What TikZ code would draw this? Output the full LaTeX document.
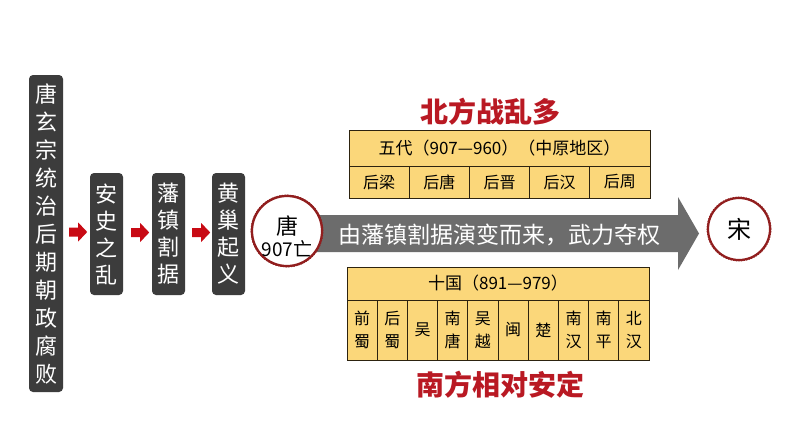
\documentclass[tikz,border=0pt]{standalone}
\usepackage{fontspec}
\setmainfont{Noto Sans CJK SC}
\usetikzlibrary{calc}
\definecolor{boxgrey}{RGB}{60,60,60}
\definecolor{arrred}{RGB}{200,10,20}
\definecolor{bigarr}{RGB}{108,108,108}
\definecolor{titlered}{RGB}{185,25,35}
\definecolor{tabfill}{RGB}{251,215,122}
\definecolor{tabline}{RGB}{45,35,15}
\definecolor{ringred}{RGB}{145,30,30}
\tikzset{
 darkbox/.style={fill=boxgrey, rounded corners=4pt, text=white, align=center, inner sep=0pt, font=\fontsize{22}{27}\selectfont},
 cell/.style={draw=tabline, line width=0.8pt, fill=tabfill, inner sep=0pt, align=center, font=\fontsize{16}{23}\selectfont},
 ring/.style={circle, draw=ringred, line width=2.2pt, fill=white, inner sep=0pt},
 scallop/.style={draw=ringred, line width=1.6pt, dash pattern=on 1.3pt off 1.3pt},
 blockarrow/.style={fill=arrred},
 titletext/.style={text=titlered, font=\fontsize{28}{30}\selectfont\bfseries}
}
\newcommand\redarrow[2]{\fill[blockarrow] ($(#1.east)+(#2,-1.5)$) ++(0,-4.5) -- ++(9,0) -- ++(0,-5) -- ++(9,9.5) -- ++(-9,9.5) -- ++(0,-5) -- ++(-9,0) -- cycle;}
\begin{document}
\begin{tikzpicture}[x=1pt,y=-1pt]
\path[use as bounding box, fill=white] (0,0) rectangle (794,447);

% left chain
\node[darkbox, minimum width=34pt, minimum height=317pt, font=\fontsize{22}{28}\selectfont] (decay) at (46,233.5) {唐\\玄\\宗\\统\\治\\后\\期\\朝\\政\\腐\\败};
\node[darkbox, minimum width=33pt, minimum height=122pt] (anshi) at (106.5,234) {安\\史\\之\\乱};
\node[darkbox, minimum width=33pt, minimum height=122pt] (fanzhen) at (168.5,234) {藩\\镇\\割\\据};
\node[darkbox, minimum width=33pt, minimum height=122pt] (huangchao) at (228.5,234) {黄\\巢\\起\\义};
\redarrow{decay}{6}
\redarrow{anshi}{8}
\redarrow{fanzhen}{7}

% big grey arrow
\node[ring, minimum size=70pt] (tang) at (287,231) {};
\coordinate (tip) at (699,233.5);
\fill[bigarr] ($(tang.center |- tip)+(0,-18.5)$) -- ($(tip)+(-21,-18.5)$) -- ($(tip)+(-21,-36.5)$) -- (tip) -- ($(tip)+(-21,36.5)$) -- ($(tip)+(-21,18.5)$) -- ($(tang.center |- tip)+(0,18.5)$) -- cycle;
\node[ring, minimum size=70pt] (tangring) at (tang.center) {};
\draw[scallop] (tang.center) circle[radius=35.6pt];
\node[font=\fontsize{22}{22}\selectfont] (tangname) at (287,226) {唐};
\node[font=\fontsize{19}{19}\selectfont] (tangyear) at (287,249) {907亡};
\node[text=white, font=\fontsize{23}{23}\selectfont] (bigtext) at (499,235) {由藩镇割据演变而来，武力夺权};
\node[ring, minimum size=62pt, font=\fontsize{24}{24}\selectfont] (song) at (739,229) {宋};
\draw[scallop] (song.center) circle[radius=31.6pt];

% north
\node[titletext] (north) at (490,112) {北方战乱多};
\node[cell, minimum width=301pt, minimum height=36pt, font=\fontsize{17}{17}\selectfont] (wuhead) at (499.5,148) {五代（907—960）（中原地区）};
\foreach \t [count=\i] in {后梁,后唐,后晋,后汉,后周}
  \node[cell, minimum width=60.2pt, minimum height=32pt] (wu\i) at ({349+60.2*(\i-0.5)},182) {\t};

% south
\node[cell, minimum width=302pt, minimum height=33pt, font=\fontsize{17}{17}\selectfont] (shihead) at (498,283.5) {十国（891—979）};
\foreach \t [count=\i] in {前\\蜀,后\\蜀,吴,南\\唐,吴\\越,闽,楚,南\\汉,南\\平,北\\汉}
  \node[cell, minimum width=30.2pt, minimum height=60pt] (shi\i) at ({347+30.2*(\i-0.5)},330) {\t};
\node[titletext] (south) at (500,385) {南方相对安定};
\end{tikzpicture}
\end{document}
